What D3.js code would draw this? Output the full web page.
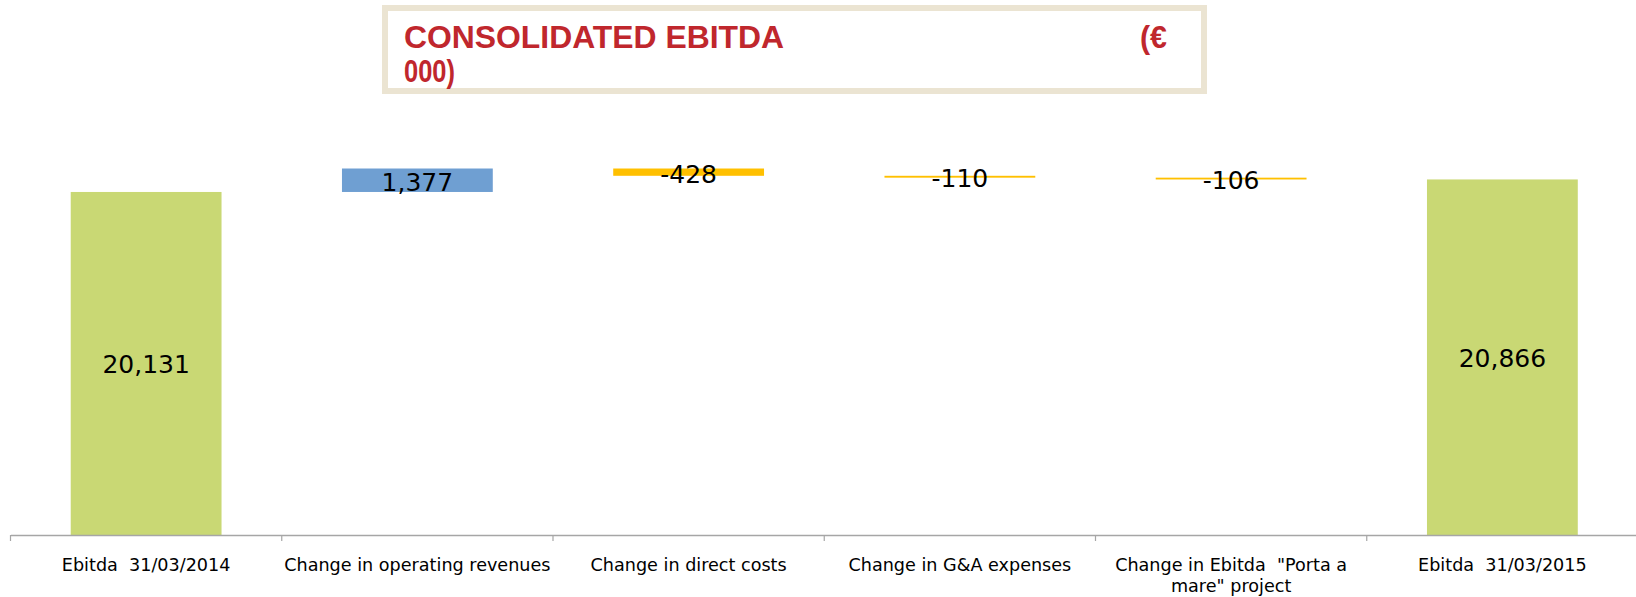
<!DOCTYPE html>
<html>
<head>
<meta charset="utf-8">
<script src="https://cdn.jsdelivr.net/npm/d3@7"></script>
<style>
  body { margin: 0; background: #fff; }
  svg { display: block; }
</style>
</head>
<body>
<svg width="1636" height="597"></svg>
<script>
var svg = d3.select("svg"),
	width = +svg.attr("width"),
	height = +svg.attr("height");

// chart data
var categories = ["Ebitda  31/03/2014", "Change in operating revenues", "Change in direct costs",
	"Change in G&A expenses", "Change in Ebitda  \"Porta a|mare\" project", "Ebitda  31/03/2015"];
var values = [20131, 1377, -428, -110, -106, 20866];
var kinds = ["total", "delta", "delta", "delta", "delta", "total"];
var valueLabels = ["20,131", "1,377", "-428", "-110", "-106", "20,866"];

var axisY = 535;

var x = d3.scaleBand()
	.domain(categories)
	.range([10.5, 1638])
	.padding(0);

var y = d3.scaleLinear()
	.domain([0, 25000])
	.range([axisY, axisY - 426]);

// build waterfall rows
var running = 0;
var rows = values.map(function(v, i){
	var r = {cat: categories[i], kind: kinds[i], label: valueLabels[i]};
	if(kinds[i] == "total"){
		r.y0 = 0; r.y1 = v;
		running = v;
	}else{
		r.y0 = running; r.y1 = running + v;
		running += v;
	}
	return r;
});

function barColor(d){
	if(d.kind == "total") return "#c9d874";
	return d.y1 > d.y0 ? "#6f9fd2" : "#ffc000";
}

var barW = x.bandwidth() * 0.556;

svg.append("g")
	.selectAll("rect")
	.data(rows)
	.enter().append("rect")
	.attr("x", function(d){ return x(d.cat) + (x.bandwidth() - barW) / 2; })
	.attr("y", function(d){ return y(Math.max(d.y0, d.y1)); })
	.attr("width", barW)
	.attr("height", function(d){ return Math.max(1.8, Math.abs(y(d.y0) - y(d.y1))); })
	.style("fill", barColor);

// value labels
svg.append("g")
	.selectAll("text")
	.data(rows)
	.enter().append("text")
	.attr("x", function(d){ return x(d.cat) + x.bandwidth() / 2; })
	.attr("y", function(d){ return (y(d.y0) + y(d.y1)) / 2 + (d.kind == "total" ? 1 : 2); })
	.attr("text-anchor", "middle")
	.attr("dominant-baseline", "central")
	.style("font-family", "'DejaVu Sans', sans-serif")
	.style("font-size", "25px")
	.style("fill", "#000")
	.text(function(d){ return d.label; });

// x axis
var axis = svg.append("g")
	.attr("transform", "translate(0," + axisY + ")")
	.call(d3.axisBottom(x).tickSize(0).tickFormat(""));
axis.select(".domain").attr("stroke", "#a6a6a6").attr("stroke-width", 1.5);

var tickPos = x.domain().map(function(c){ return x(c); });
tickPos.push(x.range()[1]);
axis.selectAll(".sep")
	.data(tickPos)
	.enter().append("line")
	.attr("class", "sep")
	.attr("x1", function(d){ return d; })
	.attr("x2", function(d){ return d; })
	.attr("y1", 0)
	.attr("y2", 6)
	.attr("stroke", "#a6a6a6")
	.attr("stroke-width", 1.2);

var labels = svg.append("g")
	.selectAll("text")
	.data(categories)
	.enter().append("text")
	.attr("x", function(d){ return x(d) + x.bandwidth() / 2; })
	.attr("y", axisY + 36)
	.attr("text-anchor", "middle")
	.style("font-family", "'DejaVu Sans', sans-serif")
	.style("font-size", "17.6px")
	.style("white-space", "pre")
	.style("fill", "#000");

labels.each(function(d){
	var parts = d.split("|");
	var t = d3.select(this);
	parts.forEach(function(p, i){
		t.append("tspan")
			.attr("x", x(d) + x.bandwidth() / 2)
			.attr("dy", i == 0 ? 0 : 21)
			.text(p);
	});
});

// title box
svg.append("rect")
	.attr("x", 385)
	.attr("y", 8)
	.attr("width", 819)
	.attr("height", 83)
	.style("fill", "#fff")
	.style("stroke", "#ebe4d2")
	.style("stroke-width", 6);

var title = svg.append("g")
	.style("font-family", "'Liberation Sans', Arial, sans-serif")
	.style("font-weight", "bold")
	.style("font-size", "32px")
	.style("fill", "#c0272d");
title.append("text").attr("x", 404).attr("y", 48)
	.attr("textLength", 380).attr("lengthAdjust", "spacingAndGlyphs")
	.text("CONSOLIDATED EBITDA");
title.append("text").attr("x", 1140).attr("y", 48)
	.attr("textLength", 27).attr("lengthAdjust", "spacingAndGlyphs")
	.text("(€");
title.append("text").attr("x", 404).attr("y", 82)
	.attr("textLength", 51).attr("lengthAdjust", "spacingAndGlyphs")
	.text("000)");
</script>
</body>
</html>
